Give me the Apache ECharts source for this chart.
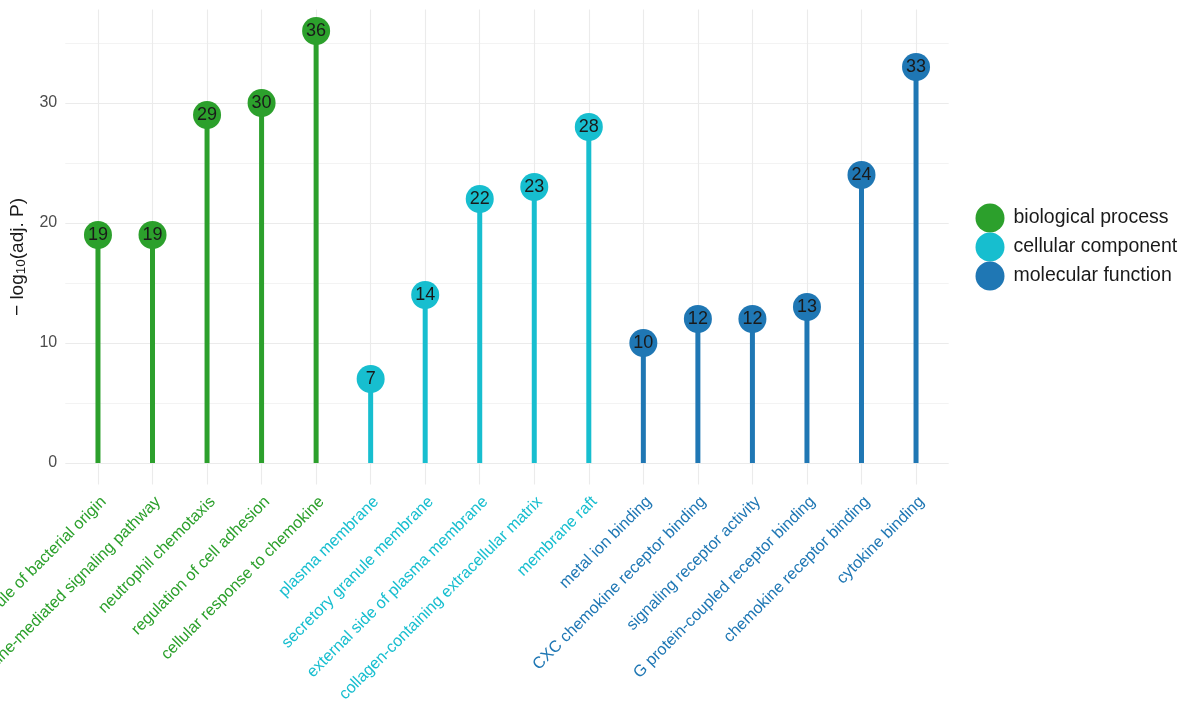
<!DOCTYPE html>
<html>
<head>
<meta charset="utf-8">
<script src="https://cdn.jsdelivr.net/npm/echarts@6/dist/echarts.min.js"></script>
<style>html,body{margin:0;padding:0;background:#fff;}#c{width:1200px;height:720px;}</style>
</head>
<body>
<div id="c"></div>
<script>
const categories = [
  'response to molecule of bacterial origin',
  'chemokine-mediated signaling pathway',
  'neutrophil chemotaxis',
  'regulation of cell adhesion',
  'cellular response to chemokine',
  'plasma membrane',
  'secretory granule membrane',
  'external side of plasma membrane',
  'collagen-containing extracellular matrix',
  'membrane raft',
  'metal ion binding',
  'CXC chemokine receptor binding',
  'signaling receptor activity',
  'G protein-coupled receptor binding',
  'chemokine receptor binding',
  'cytokine binding'
];
const groups = [
  'biological process','biological process','biological process','biological process','biological process',
  'cellular component','cellular component','cellular component','cellular component','cellular component',
  'molecular function','molecular function','molecular function','molecular function','molecular function','molecular function'
];
const values = [19, 19, 29, 30, 36, 7, 14, 22, 23, 28, 10, 12, 12, 13, 24, 33];
const groupNames = ['biological process', 'cellular component', 'molecular function'];
const groupColors = ['#2ca02c', '#17becf', '#1f77b4'];
const majorY = [0, 10, 20, 30];
const minorY = [5, 15, 25, 35];

const FONT = 'Liberation Sans, Arial, sans-serif';
const colorOf = g => groupColors[groupNames.indexOf(g)];

const chart = echarts.init(document.getElementById('c'), null, {renderer: 'canvas'});

const series = [];
// background horizontal grid lines (panel slightly wider than category bands)
series.push({
  type: 'line', xAxisIndex: 1, yAxisIndex: 1, data: [], silent: true, z: 0,
  markLine: {
    silent: true, symbol: ['none', 'none'], label: {show: false}, animation: false, z: 0,
    data: majorY.map(v => ({yAxis: v, lineStyle: {color: '#ebebeb', width: 1.1, type: 'solid'}}))
      .concat(minorY.map(v => ({yAxis: v, lineStyle: {color: '#f3f3f3', width: 1, type: 'solid'}})))
  }
});
// vertical grid lines at categories
series.push({
  type: 'scatter', xAxisIndex: 0, yAxisIndex: 0, data: [], silent: true, z: 0,
  markLine: {
    silent: true, symbol: ['none', 'none'], label: {show: false}, animation: false, z: 0,
    data: categories.map(c => ({xAxis: c, lineStyle: {color: '#ebebeb', width: 1.1, type: 'solid'}}))
  }
});
groupNames.forEach((g, gi) => {
  series.push({
    name: g, type: 'bar', barWidth: 5, barGap: '-100%', z: 2,
    itemStyle: {color: groupColors[gi]},
    data: values.map((v, i) => groups[i] === g ? v : '-'),
    animation: false
  });
});
groupNames.forEach((g, gi) => {
  series.push({
    name: g, type: 'scatter', symbol: 'circle', symbolSize: 28, z: 3,
    itemStyle: {color: groupColors[gi], opacity: 1},
    label: {show: true, position: 'inside', color: '#1a1a1a', fontSize: 18, fontFamily: FONT,
      formatter: p => p.value},
    data: values.map((v, i) => groups[i] === g ? v : '-'),
    animation: false
  });
});

chart.setOption({
  animation: false,
  backgroundColor: '#ffffff',
  textStyle: {fontFamily: FONT},
  grid: [
    {left: 70.7, width: 872.6, top: 9.4, height: 475.2, containLabel: false, outerBoundsMode: 'none'},
    {left: 65.3, width: 883.4, top: 9.4, height: 475.2, containLabel: false, outerBoundsMode: 'none'}
  ],
  legend: {
    data: groupNames, orient: 'vertical', left: 975.5, top: 203.5, padding: 0,
    icon: 'circle', itemWidth: 29, itemHeight: 29, itemGap: 0,
    textStyle: {fontSize: 19.5, color: '#1a1a1a', fontFamily: FONT, padding: [0, 0, 0, 4]},
    selectedMode: false
  },
  xAxis: [
    {
      type: 'category', gridIndex: 0, data: categories, boundaryGap: true,
      axisLine: {show: false}, axisTick: {show: false}, splitLine: {show: false},
      axisLabel: {
        interval: 0, rotate: 45, margin: 9, fontSize: 16.2, fontFamily: FONT,
        verticalAlign: 'top',
        color: (val, idx) => colorOf(groups[categories.indexOf(val)])
      }
    },
    {type: 'value', gridIndex: 1, min: 0, max: 1, show: false}
  ],
  yAxis: [
    {
      type: 'value', gridIndex: 0, min: -1.8, max: 37.8,
      axisLine: {show: false}, axisTick: {show: false}, splitLine: {show: false},
      axisLabel: {
        margin: 13.5, fontSize: 16, color: '#4d4d4d', fontFamily: FONT,
        formatter: v => (majorY.indexOf(v) >= 0 ? String(v) : '')
      },
      name: '{a|\u2212 log}{s|10}{a|(adj. P)}', nameLocation: 'middle', nameGap: 41, nameRotate: 90,
      nameTextStyle: {
        padding: [0, 20, 0, 0],
        rich: {
          a: {fontSize: 19, color: '#1a1a1a', fontFamily: FONT},
          s: {fontSize: 13.5, color: '#1a1a1a', fontFamily: FONT, verticalAlign: 'bottom', padding: [7, 0, 0, 0]}
        }
      }
    },
    {type: 'value', gridIndex: 1, min: -1.8, max: 37.8, show: false}
  ],
  series: series
});
</script>
</body>
</html>
